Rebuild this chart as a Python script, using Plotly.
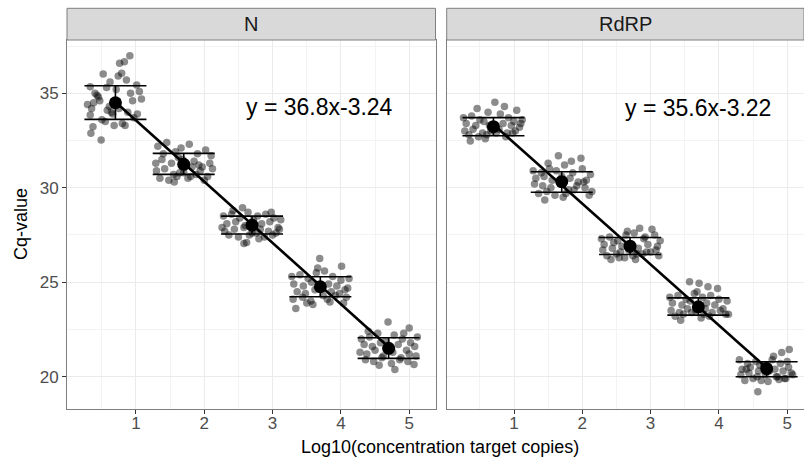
import plotly.graph_objects as go

# ---------------- data ----------------
panels = ["N", "RdRP"]
log_conc = [0.699, 1.699, 2.699, 3.699, 4.699]

# group means and error-bar ends
n_mean = [34.50, 31.24, 28.02, 24.76, 21.50]
n_hi = [35.40, 31.82, 28.50, 25.29, 22.06]
n_lo = [33.62, 30.71, 27.55, 24.23, 20.97]
r_mean = [33.23, 30.32, 26.91, 23.70, 20.43]
r_hi = [33.71, 30.85, 27.37, 24.17, 20.79]
r_lo = [32.75, 29.76, 26.47, 23.26, 20.00]

# fitted lines (intercept, slope) as printed
n_fit = [36.8, -3.24]
r_fit = [35.6, -3.22]
n_label = "y = 36.8x-3.24"
r_label = "y = 35.6x-3.22"

# jittered replicate points, N
n_x1 = [0.91,0.83,0.76,0.52,0.79,0.74,0.86,0.62,1.01,0.33,0.40,0.35,0.33,0.37,0.34,0.49,0.45,0.58,0.66,0.95,1.05,0.29,0.55,0.88,0.71,0.43,0.97,0.61,0.80,1.08,0.38,0.68,0.92,0.50,0.75,1.02,0.57,0.84,0.47,0.64]
n_y1 = [36.98,36.67,36.59,36.02,36.06,35.92,35.70,35.60,35.44,35.35,35.00,34.20,33.85,33.23,32.88,32.53,34.8,34.1,33.9,34.6,35.1,34.4,33.5,34.0,35.2,34.9,33.7,34.3,33.4,34.7,34.5,33.3,35.0,33.6,34.2,33.9,35.3,33.3,34.6,34.0]
n_x2 = [1.32,1.45,1.58,1.66,1.78,1.90,2.02,2.10,1.38,1.52,1.62,1.74,1.85,1.97,2.08,1.30,1.42,1.55,1.70,1.82,1.94,2.05,1.35,1.48,1.60,1.76,1.88,2.00,2.12,1.40,1.56,1.68,1.80,1.92,1.29,1.64]
n_y2 = [32.2,32.4,31.9,32.1,32.3,31.8,32.0,31.7,31.5,31.3,31.6,31.2,31.4,31.1,31.3,30.9,31.0,30.7,30.8,31.1,30.9,30.6,30.5,30.4,30.6,30.5,30.7,30.4,31.0,31.8,30.3,31.5,30.6,31.2,31.3,30.8]
n_x3 = [2.56,2.28,2.40,2.52,2.64,2.78,2.90,3.02,3.12,2.33,2.46,2.60,2.72,2.84,2.96,3.08,2.30,2.44,2.58,2.70,2.82,2.94,3.05,2.36,2.50,2.66,2.76,2.88,3.00,2.58,2.62,2.42,2.98,2.26,3.10,2.80]
n_y3 = [28.94,28.5,28.6,28.4,28.7,28.5,28.6,28.4,28.3,28.1,28.2,28.0,28.3,28.1,28.2,27.9,27.7,27.8,27.9,27.6,27.8,27.7,27.6,27.5,27.4,27.5,27.6,27.4,27.5,27.05,27.1,28.8,28.7,27.9,27.8,27.3]
n_x4 = [3.69,4.01,3.34,3.59,3.28,3.40,3.52,3.64,3.76,3.88,4.00,4.12,3.31,3.45,3.57,3.70,3.82,3.94,4.06,3.36,3.48,3.62,3.74,3.86,3.98,4.10,3.30,3.44,3.56,3.80,3.92,4.04,3.50,3.66,3.84,4.08]
n_y4 = [26.26,25.85,23.61,23.82,25.3,25.4,25.2,25.5,25.6,25.3,25.1,25.2,24.9,24.8,25.0,24.7,24.9,24.8,24.6,24.5,24.4,24.6,24.3,24.5,24.4,24.7,24.1,24.2,24.0,24.1,24.3,23.9,23.9,25.75,23.95,24.2]
n_x5 = [4.69,5.00,4.79,5.07,4.30,4.42,4.54,4.66,4.78,4.90,5.02,5.12,4.34,4.46,4.58,4.72,4.84,4.96,5.08,4.28,4.38,4.50,4.62,4.76,4.88,5.00,5.10,4.36,4.48,4.60,4.74,4.86,4.98,4.40,4.56,4.92]
n_y5 = [22.9,22.58,20.38,20.65,22.0,22.1,22.3,21.9,22.2,22.0,21.8,22.1,21.7,21.6,21.8,21.5,21.7,21.4,21.6,21.3,21.2,21.4,21.1,21.3,21.0,21.2,21.1,20.9,20.8,21.0,20.7,20.9,20.8,22.4,20.6,22.3]

# jittered replicate points, RdRP
r_x1 = [0.72,0.36,0.26,0.38,0.50,0.62,0.80,0.92,1.04,1.12,0.30,0.44,0.56,0.68,0.84,0.96,1.08,0.28,0.40,0.54,0.66,0.78,0.90,1.02,0.34,0.48,0.60,0.74,0.88,1.00,1.10,0.46,0.58,0.86,0.98,0.64]
r_y1 = [34.52,32.47,33.7,33.8,33.6,34.0,33.9,33.7,34.1,33.6,33.4,33.3,33.5,33.2,33.4,33.3,33.2,33.0,33.1,32.9,33.0,33.1,32.9,33.0,32.8,32.7,32.8,32.9,32.7,33.5,33.4,34.2,32.6,34.3,32.9,33.3]
r_x2 = [1.65,1.98,1.45,1.28,1.40,1.52,1.62,1.74,1.86,2.00,2.12,1.32,1.44,1.56,1.70,1.82,1.94,2.06,1.30,1.42,1.54,1.68,1.80,1.92,2.04,2.14,1.36,1.48,1.60,1.76,1.88,2.10,1.50,1.84,1.72,2.02]
r_y2 = [31.7,31.56,29.35,30.9,30.8,31.0,30.9,31.2,30.8,31.0,30.7,30.5,30.6,30.4,30.6,30.5,30.3,30.4,30.2,30.1,30.0,30.2,29.9,30.1,30.0,29.8,29.7,29.8,29.6,29.7,29.9,29.6,31.3,31.4,29.5,30.3]
r_x3 = [2.84,3.02,2.28,2.40,2.52,2.64,2.76,2.90,3.06,3.14,2.32,2.46,2.58,2.70,2.82,2.96,3.10,2.30,2.44,2.56,2.68,2.80,2.94,3.08,2.36,2.50,2.62,2.74,2.88,3.00,2.42,2.54,2.66,2.78,2.92,3.12]
r_y3 = [27.85,27.81,27.3,27.4,27.2,27.5,27.6,27.3,27.5,27.2,27.0,27.1,26.9,27.0,26.8,27.0,26.9,26.7,26.8,26.6,26.7,26.5,26.6,26.7,26.4,26.5,26.3,26.4,26.5,26.6,26.2,26.3,27.7,26.2,27.4,26.4]
r_x4 = [3.57,3.71,3.84,3.98,3.28,3.40,3.52,3.64,3.76,3.88,4.00,4.12,3.32,3.46,3.58,3.70,3.82,3.94,4.06,3.30,3.42,3.54,3.66,3.78,3.90,4.02,4.14,3.36,3.48,3.60,3.74,3.86,4.10,3.44,3.68,3.80]
r_y4 = [25.02,24.94,24.76,24.67,24.2,24.3,24.1,24.4,24.2,24.3,24.1,24.0,23.9,23.8,24.0,23.7,23.9,23.8,23.6,23.5,23.4,23.6,23.5,23.3,23.4,23.5,23.3,23.2,23.3,23.4,23.1,23.2,23.3,22.99,24.5,23.6]
r_x5 = [5.03,4.92,4.80,4.57,4.30,4.42,4.54,4.66,4.78,4.90,5.02,4.34,4.46,4.58,4.70,4.82,4.94,5.06,4.32,4.44,4.56,4.68,4.74,4.86,4.98,5.08,4.38,4.50,4.62,4.84,4.96,4.40,4.60,4.72,4.88,5.00]
r_y5 = [21.44,21.28,21.08,19.2,20.9,20.7,20.8,20.6,20.9,20.7,20.5,20.4,20.5,20.3,20.6,20.4,20.3,20.2,20.1,20.2,20.0,20.1,20.3,20.0,19.9,20.1,19.8,19.9,19.8,20.0,19.9,20.4,20.6,19.75,19.85,20.8]

x_ticks = [1, 2, 3, 4, 5]
y_ticks = [20, 25, 30, 35]
x_title = "Log10(concentration target copies)"
y_title = "Cq-value"

# ---------------- figure ----------------
W, H = 804, 460
FONT = "Liberation Sans, Arial, sans-serif"
fig = go.Figure()

sets = [
    ("x", "y", [n_x1, n_x2, n_x3, n_x4, n_x5], [n_y1, n_y2, n_y3, n_y4, n_y5], n_mean, n_hi, n_lo, n_fit),
    ("x2", "y2", [r_x1, r_x2, r_x3, r_x4, r_x5], [r_y1, r_y2, r_y3, r_y4, r_y5], r_mean, r_hi, r_lo, r_fit),
]

for xa, ya, xs, ys, mean, hi, lo, fit in sets:
    px, py = [], []
    for a, b in zip(xs, ys):
        px += a
        py += b
    fig.add_trace(go.Scatter(x=px, y=py, xaxis=xa, yaxis=ya, mode="markers",
                             marker=dict(size=7.5, color="rgba(0,0,0,0.45)", line=dict(width=0)),
                             showlegend=False, hoverinfo="skip"))
    fig.add_trace(go.Scatter(
        x=log_conc, y=mean, xaxis=xa, yaxis=ya, mode="markers",
        marker=dict(size=13, color="black"),
        error_y=dict(type="data", symmetric=False,
                     array=[h - m for h, m in zip(hi, mean)],
                     arrayminus=[m - l for m, l in zip(mean, lo)],
                     color="black", thickness=1.6, width=31),
        showlegend=False, hoverinfo="skip"))
    lx = [log_conc[0], log_conc[-1]]
    ly = [fit[0] + fit[1] * v for v in lx]
    fig.add_trace(go.Scatter(x=lx, y=ly, xaxis=xa, yaxis=ya, mode="lines",
                             line=dict(color="black", width=2.6),
                             showlegend=False, hoverinfo="skip"))

# pixel geometry
L1, R1 = 67.0, 435.5
L2, R2 = 446.7, 804.0
TOP, BOT = 40.0, 409.0
STRIP_TOP = 8.3

def px2paper_x(v):
    return v / W

def px2paper_y(v):
    return 1 - v / H

yrange = [18.29, 37.82]
border = "#7F7F7F"
grid_major = "#EBEBEB"
grid_minor = "#F3F3F3"

common_x = dict(showline=True, linecolor=border, linewidth=1, mirror=True,
                ticks="outside", ticklen=4, tickcolor="#333333", tickwidth=1,
                tickmode="array", tickvals=x_ticks, ticktext=[str(t) for t in x_ticks],
                tickfont=dict(family=FONT, size=17, color="#4D4D4D"),
                ticklabelstandoff=-5,
                showgrid=True, gridcolor=grid_major, gridwidth=1.2,
                minor=dict(tick0=0, dtick=0.5, showgrid=True, gridcolor=grid_minor, gridwidth=0.8, ticks=""),
                zeroline=False)
common_y = dict(showline=True, linecolor=border, linewidth=1, mirror=True,
                range=yrange, tickmode="array", tickvals=y_ticks,
                showgrid=True, gridcolor=grid_major, gridwidth=1.2,
                minor=dict(tick0=0, dtick=2.5, showgrid=True, gridcolor=grid_minor, gridwidth=0.8, ticks=""),
                zeroline=False)

fig.update_layout(
    width=W, height=H, margin=dict(l=0, r=0, t=0, b=0),
    paper_bgcolor="white", plot_bgcolor="white",
    font=dict(family=FONT, color="black"),
    xaxis=dict(domain=[px2paper_x(L1), px2paper_x(R1)], range=[-0.01, 5.385], **common_x),
    xaxis2=dict(domain=[px2paper_x(L2), px2paper_x(R2)], range=[0.0146, 5.246], anchor="y2", **common_x),
    yaxis=dict(domain=[px2paper_y(BOT), px2paper_y(TOP)], anchor="x",
               ticks="outside", ticklen=4, tickcolor="#333333", tickwidth=1,
               tickfont=dict(family=FONT, size=17, color="#4D4D4D"), **common_y),
    yaxis2=dict(domain=[px2paper_y(BOT), px2paper_y(TOP)], anchor="x2", matches="y",
                showticklabels=False, ticks="", **common_y),
)

# facet strips
for (l, r, lab) in [(L1, R1, panels[0]), (L2, R2, panels[1])]:
    fig.add_shape(type="rect", xref="paper", yref="paper",
                  x0=px2paper_x(l), x1=px2paper_x(r), y0=px2paper_y(TOP), y1=px2paper_y(STRIP_TOP),
                  fillcolor="#D9D9D9", line=dict(color=border, width=1), layer="above")
    fig.add_annotation(xref="paper", yref="paper", x=px2paper_x((l + r) / 2), y=px2paper_y((TOP + STRIP_TOP) / 2),
                       text=lab, showarrow=False, xanchor="center", yanchor="middle",
                       font=dict(family=FONT, size=20, color="#1A1A1A"))

# equations
fig.add_annotation(xref="x", yref="y", x=3.68, y=34.27, text=n_label, showarrow=False,
                   xanchor="center", yanchor="middle", font=dict(family=FONT, size=23, color="black"))
fig.add_annotation(xref="x2", yref="y2", x=3.69, y=34.22, text=r_label, showarrow=False,
                   xanchor="center", yanchor="middle", font=dict(family=FONT, size=23, color="black"))

# axis titles
fig.add_annotation(xref="paper", yref="paper", x=px2paper_x(440.5), y=px2paper_y(447),
                   text=x_title, showarrow=False, xanchor="center", yanchor="middle",
                   font=dict(family=FONT, size=18, color="black"))
fig.add_annotation(xref="paper", yref="paper", x=px2paper_x(20.5), y=px2paper_y(224.5),
                   text=y_title, showarrow=False, textangle=-90, xanchor="center", yanchor="middle",
                   font=dict(family=FONT, size=18, color="black"))

fig.write_html("out.html")
